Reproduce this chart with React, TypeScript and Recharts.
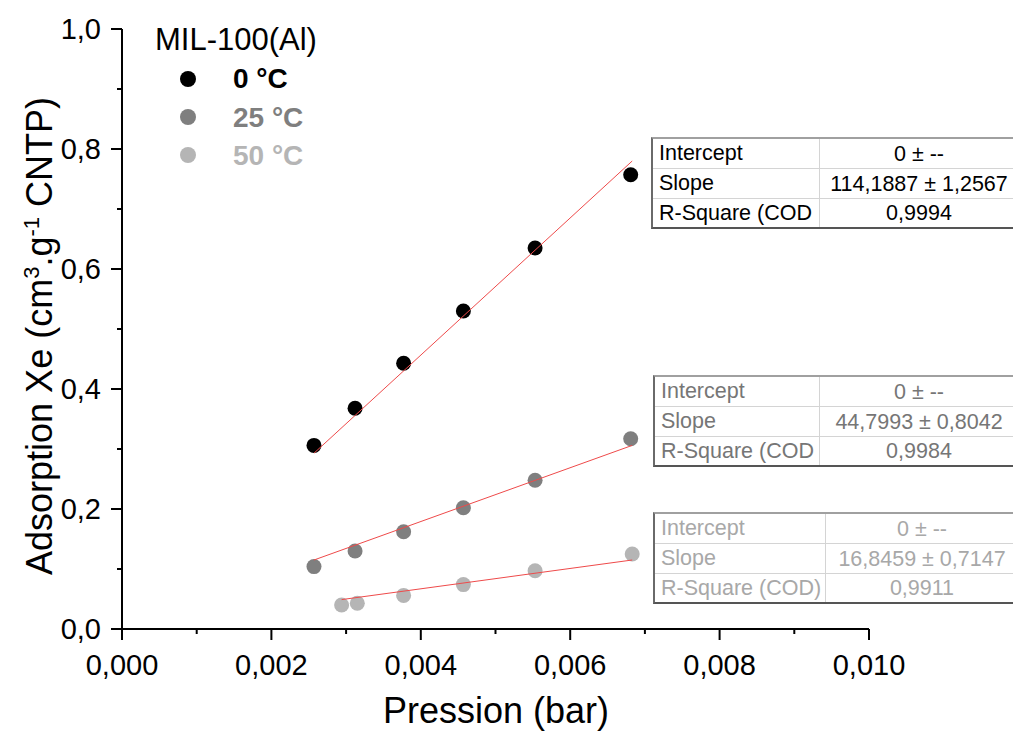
import React from 'react';
import { ScatterChart, Scatter, XAxis, YAxis } from 'recharts';

// ---- data ----
const pression0 = [0.00257, 0.00312, 0.00377, 0.00457, 0.00553, 0.00681];
const ads0 = [0.306, 0.368, 0.443, 0.530, 0.635, 0.757];
const pression25 = [0.00257, 0.00312, 0.00377, 0.00457, 0.00553, 0.00681];
const ads25 = [0.104, 0.130, 0.162, 0.202, 0.248, 0.317];
const pression50 = [0.00294, 0.00315, 0.00377, 0.00457, 0.00553, 0.00683];
const ads50 = [0.040, 0.043, 0.056, 0.074, 0.097, 0.125];

const fitX0 = [0.00257, 0.00683];
const fitY0 = [0.293, 0.780];
const fitX25 = [0.00257, 0.00683];
const fitY25 = [0.115, 0.306];
const fitX50 = [0.00294, 0.00683];
const fitY50 = [0.049, 0.115];

const xTicks = [0, 0.001, 0.002, 0.003, 0.004, 0.005, 0.006, 0.007, 0.008, 0.009, 0.01];
const xTickLabels = ['0,000', '', '0,002', '', '0,004', '', '0,006', '', '0,008', '', '0,010'];
const yTicks = [0, 0.1, 0.2, 0.3, 0.4, 0.5, 0.6, 0.7, 0.8, 0.9, 1.0];
const yTickLabels = ['0,0', '', '0,2', '', '0,4', '', '0,6', '', '0,8', '', '1,0'];

const seriesNames = ['0 °C', '25 °C', '50 °C'];
const seriesColors = ['#000000', '#7f7f7f', '#b5b5b5'];
const tableTextColors = ['#000000', '#767676', '#a8a8a8'];
const tableLabels0 = ['Intercept', 'Slope', 'R-Square (COD'];
const tableValues0 = ['0 ± --', '114,1887 ± 1,2567', '0,9994'];
const tableLabels25 = ['Intercept', 'Slope', 'R-Square (COD'];
const tableValues25 = ['0 ± --', '44,7993 ± 0,8042', '0,9984'];
const tableLabels50 = ['Intercept', 'Slope', 'R-Square (COD)'];
const tableValues50 = ['0 ± --', '16,8459 ± 0,7147', '0,9911'];

const FONT = '"Liberation Sans", Arial, sans-serif';
const zip = (xs: number[], ys: number[]) => xs.map((x, i) => ({ x, y: ys[i] }));

const data0 = zip(pression0, ads0);
const data25 = zip(pression25, ads25);
const data50 = zip(pression50, ads50);
const fit0 = zip(fitX0, fitY0);
const fit25 = zip(fitX25, fitY25);
const fit50 = zip(fitX50, fitY50);

const XTick = (props: any) => {
  const { x, y, index } = props;
  const label = xTickLabels[index] ?? '';
  const major = label !== '';
  return (
    <g>
      <line x1={x} x2={x} y1={y} y2={y + (major ? 11 : 5)} stroke="#000" strokeWidth={2} />
      {major && (
        <text x={x} y={y + 46} textAnchor="middle" fontSize={29} fontFamily={FONT} fill="#000">
          {label}
        </text>
      )}
    </g>
  );
};

const YTick = (props: any) => {
  const { x, y, index } = props;
  const label = yTickLabels[index] ?? '';
  const major = label !== '';
  return (
    <g>
      <line x1={x} x2={x - (major ? 11 : 5)} y1={y} y2={y} stroke="#000" strokeWidth={2} />
      {major && (
        <text x={x - 21} y={y + 10} textAnchor="end" fontSize={29} fontFamily={FONT} fill="#000">
          {label}
        </text>
      )}
    </g>
  );
};

const dot = (color: string) => (props: any) => (
  <circle cx={props.cx} cy={props.cy} r={7.5} fill={color} />
);
const noDot = () => <g />;

const FitTable = ({ top, left, divider, right, labels, values, color }: any) => (
  <div
    style={{
      position: 'absolute',
      top,
      left,
      width: right - left,
      borderTop: '2px solid #a0a0a0',
      borderLeft: '2px solid #6a6a6a',
      borderBottom: '2px solid #555',
      fontFamily: FONT,
      fontSize: 21.5,
      color,
      background: '#fff',
      boxSizing: 'border-box',
    }}
  >
    {labels.map((lab: string, i: number) => (
      <div
        key={i}
        style={{
          display: 'flex',
          height: i === labels.length - 1 ? 28 : 30,
          borderBottom: i === labels.length - 1 ? 'none' : '1px solid #d4d4d4',
          boxSizing: 'border-box',
          alignItems: 'center',
        }}
      >
        <div
          style={{
            width: divider - left - 2,
            paddingLeft: 6,
            boxSizing: 'border-box',
            whiteSpace: 'nowrap',
            overflow: 'hidden',
            borderRight: '1px solid #d4d4d4',
            height: '100%',
            lineHeight: '28px',
          }}
        >
          {lab}
        </div>
        <div style={{ flex: 1, textAlign: 'center', whiteSpace: 'nowrap', lineHeight: '28px' }}>
          {values[i]}
        </div>
      </div>
    ))}
  </div>
);

export default function App() {
  return (
    <div
      style={{
        position: 'absolute',
        left: 0,
        top: 0,
        width: 1013,
        height: 738,
        overflow: 'hidden',
        background: '#fff',
      }}
    >
      <ScatterChart width={1013} height={738} margin={{ top: 29, right: 144, bottom: 0, left: 0 }}>
        <XAxis
          type="number"
          dataKey="x"
          domain={[0, 0.01]}
          ticks={xTicks}
          interval={0}
          height={109}
          tickSize={0}
          tickMargin={0}
          tickLine={false}
          axisLine={{ stroke: '#000', strokeWidth: 2 }}
          tick={<XTick />}
        />
        <YAxis
          type="number"
          dataKey="y"
          domain={[0, 1]}
          ticks={yTicks}
          interval={0}
          width={122}
          tickSize={0}
          tickMargin={0}
          tickLine={false}
          axisLine={{ stroke: '#000', strokeWidth: 2 }}
          tick={<YTick />}
        />
        <Scatter data={data0} shape={dot(seriesColors[0])} isAnimationActive={false} />
        <Scatter data={data25} shape={dot(seriesColors[1])} isAnimationActive={false} />
        <Scatter data={data50} shape={dot(seriesColors[2])} isAnimationActive={false} />
        <Scatter data={fit0} shape={noDot} line={{ stroke: '#ee4a4a', strokeWidth: 1 }} isAnimationActive={false} />
        <Scatter data={fit25} shape={noDot} line={{ stroke: '#ee4a4a', strokeWidth: 1 }} isAnimationActive={false} />
        <Scatter data={fit50} shape={noDot} line={{ stroke: '#ee4a4a', strokeWidth: 1 }} isAnimationActive={false} />
      </ScatterChart>

      <svg
        width={1013}
        height={738}
        style={{ position: 'absolute', left: 0, top: 0, pointerEvents: 'none' }}
      >
        <text
          x={52}
          y={336}
          transform="rotate(-90, 52, 336)"
          textAnchor="middle"
          fontSize={36}
          fontFamily={FONT}
          fill="#000"
        >
          Adsorption Xe (cm
          <tspan dy={-13} fontSize={22}>3</tspan>
          <tspan dy={13}>.g</tspan>
          <tspan dy={-13} fontSize={22}>-1</tspan>
          <tspan dy={13}> CNTP)</tspan>
        </text>
        <text x={496} y={723} textAnchor="middle" fontSize={36} fontFamily={FONT} fill="#000">
          Pression (bar)
        </text>

        <text x={155} y={50} fontSize={31} fontFamily={FONT} fill="#000">
          MIL-100(Al)
        </text>
        {seriesNames.map((name, i) => (
          <g key={name}>
            <circle cx={188} cy={79 + i * 38} r={8} fill={seriesColors[i]} />
            <text
              x={233}
              y={88 + i * 38.5}
              fontSize={28}
              fontWeight="bold"
              fontFamily={FONT}
              fill={seriesColors[i]}
            >
              {name}
            </text>
          </g>
        ))}
      </svg>

      <FitTable top={137} left={651} divider={820} right={1018} labels={tableLabels0} values={tableValues0} color={tableTextColors[0]} />
      <FitTable top={375} left={653} divider={820} right={1018} labels={tableLabels25} values={tableValues25} color={tableTextColors[1]} />
      <FitTable top={512} left={653} divider={826} right={1018} labels={tableLabels50} values={tableValues50} color={tableTextColors[2]} />
    </div>
  );
}
